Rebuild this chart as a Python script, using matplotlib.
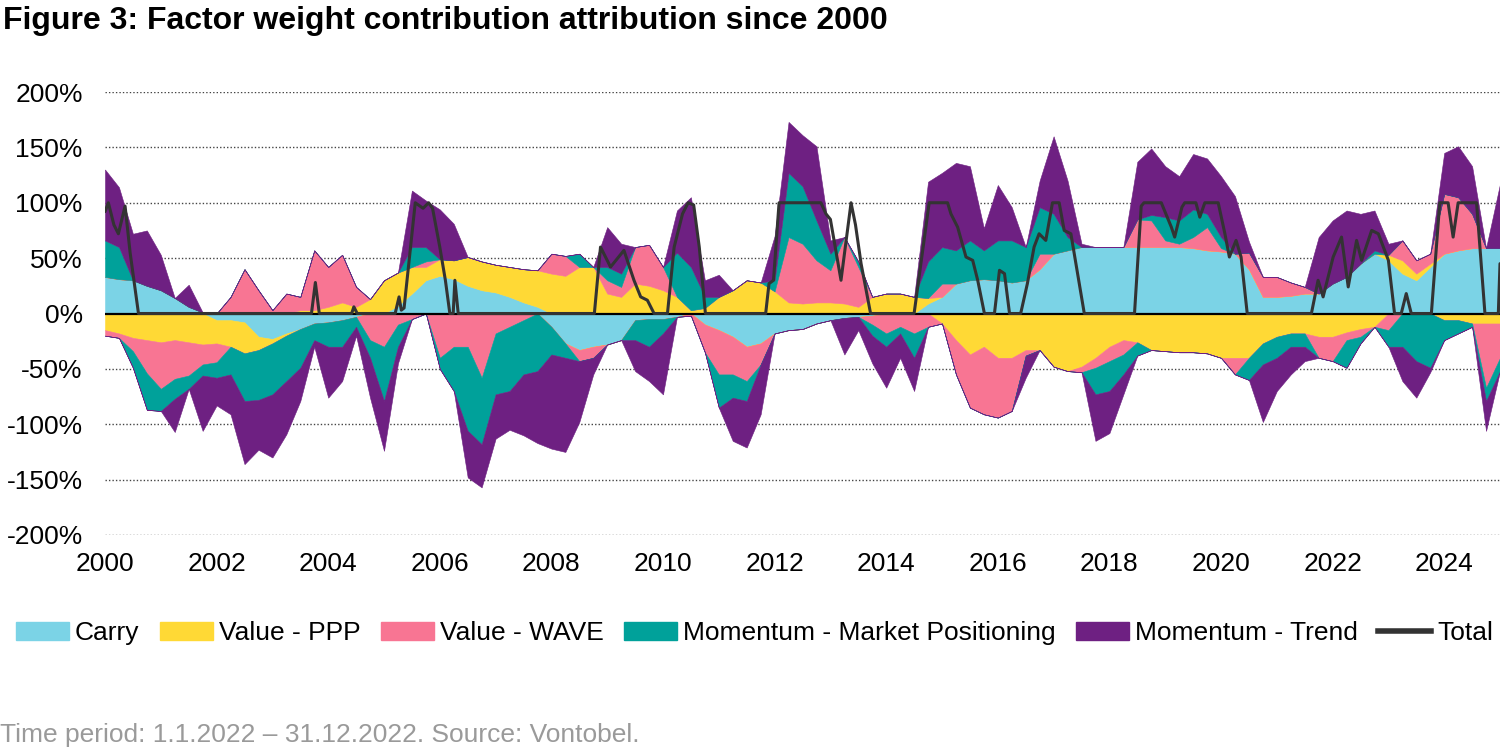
import numpy as np
import matplotlib
matplotlib.use('Agg')
import matplotlib.pyplot as plt
from matplotlib.patches import Patch
from matplotlib.lines import Line2D

plt.rcParams['font.family'] = ['Liberation Sans', 'DejaVu Sans']

# quarterly observation dates (decimal years), 2000 Q1 .. 2025 Q1
dates = 2000 + np.arange(101) * 0.25

carry = [33, 31, 30, 25,
         21, 14, 6, 1,
         -6, -6, -8, -21,
         -23, -18, -14, -9,
         -8, -6, -3, 0,
         0, 7, 18, 30,
         34, 31, 25, 21,
         19, 15, 10, 6,
         -12, -27, -33, -30,
         -28, -24, -6, -5,
         -5, -3, 0, -10,
         -15, -21, -30, -27,
         -18, -15, -14, -9,
         -6, -4, -3, -2,
         0, 0, 0, 9,
         15, 27, 30, 31,
         30, 28, 30, 40,
         54, 57, 60, 60,
         60, 60, 60, 60,
         60, 60, 59, 57,
         56, 54, 40, 15,
         15, 16, 18, 18,
         27, 33, 45, 54,
         48, 36, 30, 42,
         54, 57, 59, 59,
         59]

value_ppp = [-15, -18, -22, -24,
             -26, -24, -26, -28,
             -21, -24, -28, -12,
             -4, -2, 3, 3,
             6, 10, 6, 13,
             30, 30, 24, 12,
             15, 17, 26, 26,
             25, 27, 30, 33,
             36, 34, 42, 42,
             18, 15, 27, 25,
             21, 15, 3, 5,
             15, 21, 30, 28,
             20, 10, 9, 10,
             10, 9, 6, 15,
             18, 18, 15, 5,
             -9, -24, -37, -30,
             -40, -40, -33, -33,
             -48, -52, -48, -40,
             -30, -24, -26, -33,
             -34, -35, -35, -36,
             -40, -40, -40, -27,
             -21, -18, -18, -21,
             -21, -17, -14, -12,
             5, 12, 6, 3,
             -6, -6, -9, -9,
             -9]

value_wave = [-5, -4, -12, -30,
              -42, -35, -30, -18,
              -17, 15, 40, 21,
              3, 18, 12, 54,
              36, 43, 18, -24,
              -30, -10, -5, 5,
              -40, -30, -30, -58,
              -18, -12, -6, 0,
              18, 18, -10, -10,
              12, 9, 33, 37,
              21, 0, -2, -25,
              -40, -34, -31, -19,
              0, 59, 54, 38,
              29, 60, 36, -8,
              -18, -12, -18, -12,
              12, -31, -48, -61,
              -54, -48, -5, 14,
              0, 0, -5, -9,
              -13, -13, 25, 24,
              6, 3, 10, 21,
              3, -15, 15, 18,
              18, 12, 6, -19,
              -22, -7, -7, 0,
              -15, 18, 12, 9,
              54, 48, 31, -58,
              -31]

mom_positioning = [33, 29, -15, -33,
                   -20, -18, -12, -10,
                   -14, -25, -43, -45,
                   -46, -41, -35, -15,
                   -22, -24, -9, -16,
                   -49, -20, 18, 13,
                   -10, -40, -76, -60,
                   -55, -58, -49, -52,
                   -25, -13, 12, 0,
                   12, 12, -18, -25,
                   -13, 40, 39, 10,
                   -30, -21, -18, 0,
                   10, 58, 52, 36,
                   15, 0, 5, -10,
                   -12, -6, -22, 33,
                   33, 30, 36, 26,
                   36, 38, 30, 42,
                   36, 12, 0, -24,
                   -27, -18, -12, 5,
                   21, 21, 25, 12,
                   10, 0, -20, -19,
                   -19, -12, -12, 0,
                   0, -25, -6, 3,
                   -15, -30, -43, -49,
                   -18, -12, -3, -12,
                   -12]

mom_trend = [64, 54, 42, 50,
             32, -30, 20, -50,
             -25, -36, -57, -45,
             -57, -48, -30, -6,
             -46, -31, -8, -36,
             -45, -15, 51, 42,
             45, 33, -42, -39,
             -40, -35, -55, -65,
             -85, -85, -55, -15,
             36, 27, -28, -31,
             -55, 38, 63, 15,
             20, -39, -42, -45,
             40, 46, 46, 67,
             12, -33, -12, -25,
             -37, -22, -30, 72,
             67, 79, 67, 20,
             50, 30, -20, 24,
             70, 51, 3, -42,
             -38, -18, 52, 60,
             46, 40, 50, 50,
             55, 52, 10, -52,
             -30, -25, -13, 51,
             57, 60, 45, 36,
             10, -31, -33, -4,
             37, 46, 43, -27,
             58]

total_dates = [2000.00, 2000.06, 2000.16, 2000.24, 2000.36, 2000.45, 2000.60,
               2003.70, 2003.77, 2003.84, 2004.42, 2004.46, 2004.52,
               2005.20, 2005.27, 2005.31, 2005.36, 2005.56, 2005.70, 2005.80, 2005.87,
               2006.00, 2006.10, 2006.18, 2006.24, 2006.27, 2006.33,
               2008.77, 2008.88, 2009.06, 2009.30, 2009.48, 2009.60, 2009.72, 2009.84,
               2010.08, 2010.20, 2010.35, 2010.45, 2010.55, 2010.65, 2010.76,
               2011.84, 2011.90, 2011.98, 2012.08, 2012.83, 2012.92, 2013.00,
               2013.19, 2013.37, 2013.45, 2013.55, 2013.72,
               2014.50, 2014.77, 2015.10, 2015.16, 2015.28, 2015.43, 2015.55,
               2015.64, 2015.76, 2015.94, 2016.03, 2016.12, 2016.21,
               2016.41, 2016.53, 2016.65, 2016.74, 2016.86, 2016.98, 2017.10,
               2017.19, 2017.31, 2017.55,
               2018.45, 2018.57, 2018.62, 2018.93, 2019.11, 2019.17, 2019.30,
               2019.35, 2019.55, 2019.62, 2019.71, 2019.95, 2020.07, 2020.15,
               2020.27, 2020.36, 2020.47,
               2021.62, 2021.74, 2021.83, 2022.01, 2022.16, 2022.28, 2022.43,
               2022.52, 2022.70, 2022.82, 2023.00, 2023.11, 2023.23, 2023.32,
               2023.41, 2023.77, 2023.92, 2024.07, 2024.16, 2024.25, 2024.58,
               2024.73, 2024.97, 2025.00]
total_vals = [92, 100, 80, 72, 97, 55, 0,
              0, 28, 0, 0, 6, 0,
              0, 15, 3, 5, 100, 95, 100, 95,
              60, 30, 0, 0, 30, 0,
              0, 60, 42, 57, 30, 15, 12, 0,
              0, 60, 90, 100, 98, 60, 0,
              0, 27, 30, 100, 100, 90, 85,
              30, 100, 80, 45, 0,
              0, 100, 100, 90, 78, 51, 48,
              30, 0, 0, 39, 36, 0,
              0, 27, 60, 72, 66, 100, 100,
              75, 72, 0,
              0, 97, 100, 100, 78, 69, 96,
              100, 100, 87, 100, 100, 72, 51,
              66, 51, 0,
              0, 30, 15, 51, 69, 24, 66,
              48, 75, 72, 48, 0, 0, 18,
              0, 0, 100, 100, 69, 100, 100,
              0, 0, 45]

labels = ['Carry', 'Value - PPP', 'Value - WAVE',
          'Momentum - Market Positioning', 'Momentum - Trend']
colors = ['#7BD3E6', '#FFD935', '#F87593', '#00A19A', '#6E2082']
total_color = '#333333'

fig = plt.figure(figsize=(15, 7.5), dpi=100)
ax = fig.add_axes([0.07, 1 - 535 / 750, 0.93, (535 - 92) / 750])

n = len(dates)
pos_base = np.zeros(n)
neg_base = np.zeros(n)
for vals, col in zip([carry, value_ppp, value_wave, mom_positioning, mom_trend], colors):
    v = np.asarray(vals, dtype=float)
    p = np.clip(v, 0, None)
    q = np.clip(v, None, 0)
    ax.fill_between(dates, pos_base, pos_base + p, facecolor=col, edgecolor=col,
                    linewidth=0.4, zorder=2)
    ax.fill_between(dates, neg_base, neg_base + q, facecolor=col, edgecolor=col,
                    linewidth=0.4, zorder=2)
    pos_base = pos_base + p
    neg_base = neg_base + q

for yv in [-200, -150, -100, -50, 50, 100, 150, 200]:
    ax.axhline(yv, color='#444444', lw=1.0, ls=(0, (1, 1.5)), zorder=1)
ax.axhline(0, color='black', lw=1.6, zorder=3)

ax.plot(total_dates, total_vals, color=total_color, lw=2.2, zorder=4,
        solid_joinstyle='round', solid_capstyle='round')

ax.set_xlim(2000, 2025)
ax.set_ylim(-200, 200)
ax.set_yticks(range(-200, 201, 50))
ax.set_yticklabels([f'{v}%' for v in range(-200, 201, 50)])
ax.set_xticks(range(2000, 2025, 2))
ax.set_xticklabels([str(y) for y in range(2000, 2025, 2)])
ax.tick_params(axis='both', length=0, labelsize=19)
ax.tick_params(axis='y', pad=16)
ax.tick_params(axis='x', pad=12)
for s in ax.spines.values():
    s.set_visible(False)

fig.text(0.002, 1 - 21 / 750, 'Figure 3: Factor weight contribution attribution since 2000',
         fontsize=23, fontweight='bold', ha='left', va='center')

handles = [Patch(facecolor=c, edgecolor=c) for c in colors]
handles.append(Line2D([0], [0], color=total_color, lw=4))
fig.legend(handles, labels + ['Total'], loc='center',
           bbox_to_anchor=(0.503, 1 - 633 / 750), ncol=6, frameon=False,
           fontsize=19, handlelength=2.0, handleheight=0.7, handletextpad=0.23,
           columnspacing=0.78, borderaxespad=0, borderpad=0)

fig.text(0.0, 1 - 735 / 750, 'Time period: 1.1.2022 \u2013 31.12.2022. Source: Vontobel.',
         color='#9A9A9A', fontsize=19, ha='left', va='center')

fig.savefig('out.png', dpi=100)
